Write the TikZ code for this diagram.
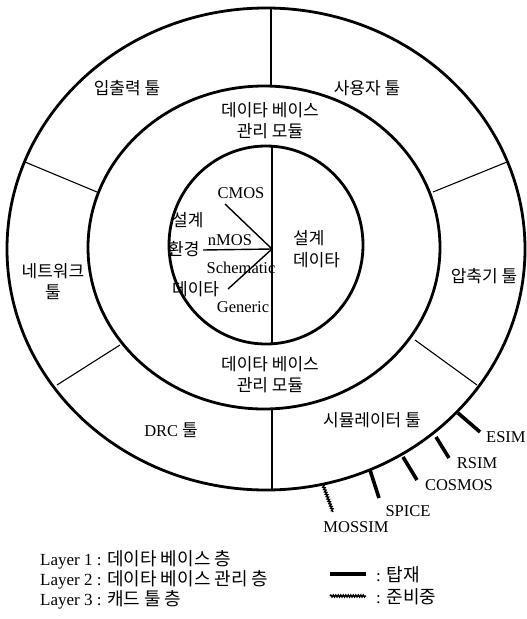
\documentclass[tikz,border=0pt]{standalone}
\usepackage{fontspec}
\setmainfont{Liberation Serif}
\newfontfamily\kr{Noto Sans CJK KR}
\usetikzlibrary{decorations.pathmorphing}
\tikzset{ring/.style={line width=2.8pt}}
\tikzset{wall/.style={line width=1.1pt}}
\tikzset{thin-line/.style={line width=1.4pt}}
\tikzset{spoke/.style={line width=3.6pt}}
\tikzset{planned/.style={line width=1.4pt, decorate, decoration={snake, amplitude=1pt, segment length=2.5pt}}}
\tikzset{ko/.style={font=\kr\fontsize{17}{21}\selectfont, inner sep=0pt}}
\tikzset{en/.style={font=\fontsize{16.5}{19}\selectfont, inner sep=0pt}}
\tikzset{key/.style={font=\fontsize{17}{19}\selectfont, inner sep=0pt, anchor=west}}
\newcommand{\keyko}[1]{{\kr\fontsize{18}{19}\selectfont #1}}

\begin{document}
\begin{tikzpicture}[x=1pt, y=-1pt]
  \useasboundingbox (0,0) rectangle (527,619);

  % layers 3, 2, 1
  \draw[ring] (266,249) ellipse [x radius=259, y radius=241];
  \draw[ring] (264,247.5) ellipse [x radius=176, y radius=161.5];
  \draw[ring] (266,245) ellipse [x radius=97, y radius=99];

  % tool sectors
  \draw[wall] (271,86) -- (271,8);
  \draw[wall] (272,409) -- (272,490);
  \draw[wall] (120,345) -- (57,385);
  \draw[wall] (415,340) -- (477,385);
  \draw[wall] (433,192) -- (507,162);
  \draw[wall] (97,192) -- (25,162);

  \node[ko] (io) at (127,88) {입출력 툴};
  \node[ko] (user) at (367,88) {사용자 툴};
  \node[ko, align=center] (net) at (53,282) {네트워크\\툴};
  \node[ko] (comp) at (484,276) {압축기 툴};
  \node[ko] (drc) at (171,430) {{\rmfamily\fontsize{16.5}{19}\selectfont DRC} 툴};
  \node[ko] (sim) at (372,420) {시뮬레이터 툴};

  % database management
  \node[ko, align=center] (dbm-top) at (270,121) {데이타 베이스\\관리 모듈};
  \node[ko, align=center] (dbm-bot) at (270,375) {데이타 베이스\\관리 모듈};

  % design data
  \draw[wall] (272,146) -- (272,343);
  \coordinate (hub) at (272,249);
  \coordinate (c-end) at (225,204);
  \coordinate (n-end) at (203,250);
  \coordinate (g-end) at (228,289);
  \draw[thin-line] (c-end) -- (hub);
  \draw[thin-line] (n-end) -- (hub);
  \draw[thin-line] (g-end) -- (hub);

  \node[en] (cmos) at (241,193) {CMOS};
  \node[en] (nmos) at (230,240) {nMOS};
  \node[en] (schem) at (241,268) {Schematic};
  \node[en] (gen) at (243,307) {Generic};

  \node[ko, anchor=west] (env1) at (172,220) {설계};
  \node[ko, anchor=west] (env2) at (168,249) {환경};
  \node[ko, anchor=west] (env3) at (172,289) {데이타};
  \node[ko, anchor=west] (dd1) at (293,238) {설계};
  \node[ko, anchor=west] (dd2) at (293,260) {데이타};

  % simulators
  \coordinate (esim-a) at (458,413);
  \coordinate (esim-b) at (480,432);
  \coordinate (rsim-a) at (436,437);
  \coordinate (rsim-b) at (449,458);
  \coordinate (cosmos-a) at (403,457);
  \coordinate (cosmos-b) at (417,480);
  \coordinate (spice-a) at (370,470);
  \coordinate (spice-b) at (379,498);
  \coordinate (mossim-a) at (323,485);
  \coordinate (mossim-b) at (333,512);
  \draw[spoke] (esim-a) -- (esim-b);
  \draw[spoke] (rsim-a) -- (rsim-b);
  \draw[spoke] (cosmos-a) -- (cosmos-b);
  \draw[spoke] (spice-a) -- (spice-b);
  \draw[planned] (mossim-a) -- (mossim-b);

  \node[en, anchor=west] (esim) at (486,437) {ESIM};
  \node[en] (rsim) at (477,463) {RSIM};
  \node[en] (cosmos) at (459,485) {COSMOS};
  \node[en] (spice) at (408,511) {SPICE};
  \node[en] (mossim) at (356,527) {MOSSIM};

  % legend
  \node[key] (l1) at (40,560) {Layer 1 : \keyko{데이타 베이스 층}};
  \node[key] (l2) at (40,580) {Layer 2 : \keyko{데이타 베이스 관리 층}};
  \node[key] (l3) at (40,600) {Layer 3 : \keyko{캐드 툴 층}};

  \coordinate (k1-a) at (330,574);
  \coordinate (k1-b) at (366,574);
  \coordinate (k2-a) at (330,596);
  \coordinate (k2-b) at (366,596);
  \draw[spoke] (k1-a) -- (k1-b);
  \draw[planned] (k2-a) -- (k2-b);
  \node[key] (k1) at (376,575) {: \keyko{탑재}};
  \node[key] (k2) at (376,597) {: \keyko{준비중}};
\end{tikzpicture}
\end{document}
